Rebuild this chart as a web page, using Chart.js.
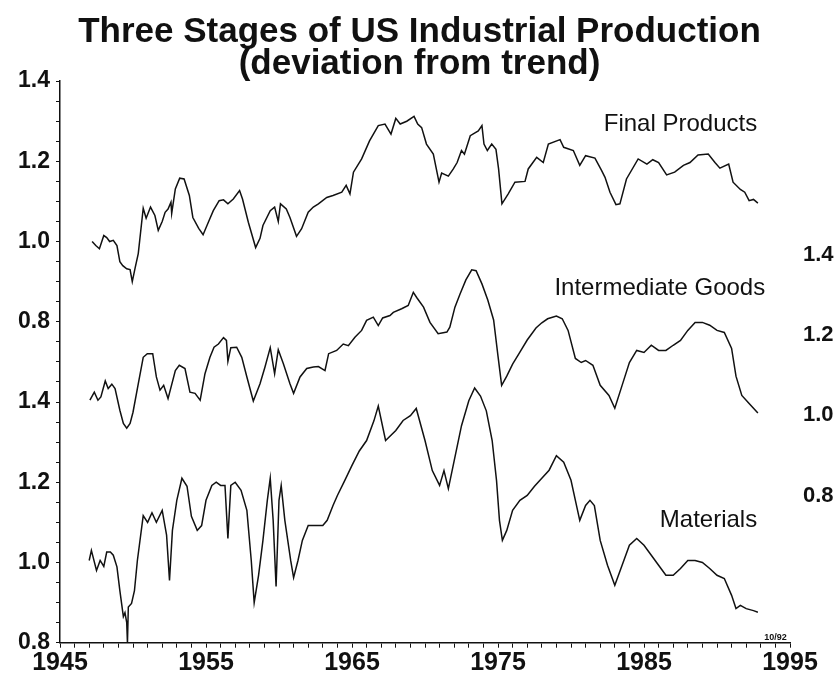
<!DOCTYPE html>
<html>
<head>
<meta charset="utf-8">
<script src="https://cdn.jsdelivr.net/npm/chart.js@4"></script>
<style>
  html, body { margin: 0; padding: 0; background: #fff; }
  #wrap { width: 839px; height: 681px; }
</style>
</head>
<body>
<div id="wrap"><canvas id="chart" width="839" height="681"></canvas></div>
<script>
// values (deviation from trend)
const finalYears = [1947.2, 1947.45, 1947.7, 1948.0, 1948.2, 1948.4, 1948.65, 1948.9, 1949.1, 1949.3, 1949.57, 1949.8, 1949.95, 1950.15, 1950.36, 1950.7, 1950.9, 1951.2, 1951.5, 1951.73, 1952.0, 1952.2, 1952.4, 1952.6, 1952.65, 1952.9, 1953.2, 1953.5, 1953.86, 1954.1, 1954.5, 1954.8, 1955.16, 1955.5, 1955.9, 1956.2, 1956.5, 1956.87, 1957.3, 1957.5, 1957.9, 1958.4, 1958.7, 1958.9, 1959.4, 1959.7, 1959.95, 1960.1, 1960.5, 1960.75, 1961.2, 1961.55, 1962.0, 1962.35, 1962.7, 1963.27, 1963.7, 1964.3, 1964.6, 1964.86, 1965.1, 1965.66, 1966.2, 1966.8, 1967.26, 1967.67, 1968.0, 1968.3, 1968.75, 1969.25, 1969.5, 1969.77, 1970.1, 1970.57, 1970.96, 1971.14, 1971.6, 1971.94, 1972.2, 1972.5, 1972.7, 1973.1, 1973.65, 1973.9, 1974.04, 1974.27, 1974.57, 1974.86, 1975.04, 1975.27, 1975.7, 1976.16, 1976.85, 1977.07, 1977.65, 1978.1, 1978.45, 1979.25, 1979.5, 1980.16, 1980.6, 1981.0, 1981.64, 1982.1, 1982.33, 1982.67, 1983.08, 1983.35, 1983.8, 1984.6, 1985.2, 1985.6, 1986.0, 1986.55, 1987.1, 1987.7, 1988.15, 1988.7, 1989.4, 1989.86, 1990.2, 1990.8, 1991.1, 1991.6, 1991.9, 1992.2, 1992.5, 1992.8];
const finalValues = [1.000, 0.990, 0.982, 1.015, 1.010, 1.000, 1.003, 0.990, 0.950, 0.940, 0.932, 0.930, 0.900, 0.935, 0.970, 1.083, 1.058, 1.086, 1.065, 1.028, 1.050, 1.073, 1.081, 1.098, 1.070, 1.131, 1.158, 1.156, 1.115, 1.060, 1.033, 1.017, 1.048, 1.077, 1.102, 1.104, 1.094, 1.106, 1.127, 1.106, 1.048, 0.985, 1.008, 1.040, 1.077, 1.086, 1.050, 1.094, 1.081, 1.060, 1.013, 1.032, 1.073, 1.086, 1.094, 1.110, 1.115, 1.123, 1.140, 1.119, 1.173, 1.206, 1.251, 1.289, 1.293, 1.268, 1.307, 1.293, 1.300, 1.312, 1.293, 1.284, 1.243, 1.218, 1.148, 1.171, 1.163, 1.181, 1.197, 1.227, 1.218, 1.264, 1.276, 1.289, 1.243, 1.227, 1.243, 1.230, 1.181, 1.094, 1.119, 1.148, 1.150, 1.181, 1.210, 1.197, 1.243, 1.254, 1.235, 1.227, 1.190, 1.214, 1.208, 1.177, 1.160, 1.123, 1.092, 1.094, 1.156, 1.206, 1.193, 1.204, 1.197, 1.166, 1.173, 1.190, 1.197, 1.216, 1.218, 1.197, 1.183, 1.193, 1.148, 1.130, 1.123, 1.102, 1.105, 1.096];

const interYears = [1947.05, 1947.35, 1947.6, 1947.8, 1948.1, 1948.3, 1948.55, 1948.77, 1949.1, 1949.34, 1949.57, 1949.8, 1950.0, 1950.36, 1950.7, 1950.98, 1951.35, 1951.6, 1951.85, 1952.1, 1952.4, 1952.9, 1953.17, 1953.56, 1953.9, 1954.25, 1954.6, 1954.93, 1955.27, 1955.55, 1955.85, 1956.2, 1956.4, 1956.5, 1956.7, 1957.1, 1957.45, 1957.8, 1958.24, 1958.7, 1959.04, 1959.4, 1959.7, 1959.95, 1960.3, 1960.75, 1961.0, 1961.44, 1961.9, 1962.35, 1962.7, 1963.15, 1963.4, 1963.95, 1964.4, 1964.75, 1965.2, 1965.66, 1966.0, 1966.46, 1966.8, 1967.1, 1967.6, 1967.83, 1968.4, 1968.85, 1969.2, 1969.43, 1969.9, 1970.34, 1970.9, 1971.5, 1971.7, 1972.05, 1972.4, 1972.8, 1973.2, 1973.5, 1973.9, 1974.3, 1974.7, 1975.0, 1975.25, 1975.6, 1976.0, 1976.5, 1977.0, 1977.6, 1978.0, 1978.4, 1979.0, 1979.4, 1979.8, 1980.3, 1980.7, 1981.0, 1981.5, 1982.0, 1982.6, 1983.0, 1983.5, 1984.0, 1984.5, 1985.0, 1985.5, 1986.0, 1986.5, 1987.0, 1987.5, 1988.0, 1988.5, 1989.0, 1989.5, 1990.0, 1990.5, 1991.0, 1991.3, 1991.7, 1992.2, 1992.8];
const interValues = [1.020, 1.040, 1.020, 1.028, 1.068, 1.049, 1.060, 1.049, 0.995, 0.962, 0.950, 0.962, 0.990, 1.061, 1.127, 1.136, 1.136, 1.078, 1.045, 1.057, 1.024, 1.094, 1.107, 1.099, 1.040, 1.037, 1.020, 1.086, 1.127, 1.152, 1.160, 1.176, 1.169, 1.117, 1.151, 1.152, 1.127, 1.078, 1.018, 1.061, 1.103, 1.151, 1.086, 1.146, 1.111, 1.061, 1.037, 1.078, 1.099, 1.103, 1.104, 1.094, 1.136, 1.144, 1.160, 1.156, 1.177, 1.194, 1.219, 1.227, 1.206, 1.225, 1.231, 1.239, 1.248, 1.256, 1.289, 1.276, 1.252, 1.214, 1.186, 1.190, 1.202, 1.252, 1.285, 1.320, 1.345, 1.343, 1.310, 1.270, 1.220, 1.130, 1.057, 1.080, 1.110, 1.140, 1.170, 1.200, 1.213, 1.223, 1.230, 1.223, 1.194, 1.124, 1.114, 1.119, 1.107, 1.057, 1.032, 1.000, 1.057, 1.114, 1.144, 1.139, 1.157, 1.144, 1.144, 1.157, 1.169, 1.194, 1.214, 1.214, 1.207, 1.194, 1.189, 1.149, 1.080, 1.032, 1.012, 0.988];

const matYears = [1947.0, 1947.15, 1947.5, 1947.75, 1948.0, 1948.2, 1948.45, 1948.65, 1948.9, 1949.1, 1949.34, 1949.45, 1949.57, 1949.62, 1949.68, 1949.9, 1950.1, 1950.3, 1950.7, 1951.0, 1951.3, 1951.6, 1952.0, 1952.3, 1952.5, 1952.7, 1953.0, 1953.35, 1953.7, 1954.0, 1954.4, 1954.7, 1955.0, 1955.4, 1955.7, 1956.0, 1956.3, 1956.5, 1956.7, 1957.0, 1957.4, 1957.8, 1958.1, 1958.3, 1958.6, 1958.9, 1959.2, 1959.4, 1959.6, 1959.8, 1960.0, 1960.15, 1960.4, 1960.8, 1961.0, 1961.3, 1961.6, 1962.0, 1962.5, 1963.0, 1963.3, 1963.7, 1964.0, 1964.5, 1965.0, 1965.5, 1966.0, 1966.5, 1966.8, 1967.3, 1968.0, 1968.5, 1969.0, 1969.4, 1970.0, 1970.5, 1971.0, 1971.3, 1971.6, 1972.0, 1972.5, 1973.0, 1973.4, 1973.8, 1974.2, 1974.6, 1974.9, 1975.1, 1975.3, 1975.6, 1976.0, 1976.5, 1977.0, 1977.5, 1978.0, 1978.5, 1979.0, 1979.5, 1980.0, 1980.3, 1980.6, 1981.0, 1981.3, 1981.6, 1982.0, 1982.5, 1983.0, 1983.5, 1984.0, 1984.5, 1985.0, 1985.5, 1986.0, 1986.5, 1987.0, 1987.5, 1988.0, 1988.5, 1989.0, 1989.5, 1990.0, 1990.5, 1991.0, 1991.3, 1991.6, 1992.0, 1992.5, 1992.8];
const matValues = [1.005, 1.030, 0.980, 1.005, 0.990, 1.026, 1.026, 1.018, 0.989, 0.930, 0.865, 0.875, 0.850, 0.800, 0.889, 0.898, 0.930, 1.005, 1.117, 1.100, 1.124, 1.100, 1.130, 1.068, 0.955, 1.080, 1.155, 1.210, 1.190, 1.115, 1.080, 1.092, 1.155, 1.192, 1.200, 1.192, 1.192, 1.060, 1.192, 1.200, 1.180, 1.130, 1.005, 0.900, 0.968, 1.055, 1.155, 1.210, 1.105, 0.940, 1.155, 1.192, 1.105, 1.005, 0.962, 1.005, 1.055, 1.092, 1.092, 1.092, 1.105, 1.142, 1.167, 1.204, 1.242, 1.278, 1.304, 1.353, 1.390, 1.304, 1.329, 1.354, 1.366, 1.384, 1.304, 1.229, 1.192, 1.229, 1.184, 1.254, 1.341, 1.403, 1.435, 1.415, 1.378, 1.304, 1.204, 1.105, 1.055, 1.080, 1.130, 1.155, 1.167, 1.190, 1.210, 1.230, 1.266, 1.250, 1.205, 1.155, 1.105, 1.142, 1.155, 1.142, 1.055, 0.993, 0.943, 0.993, 1.043, 1.060, 1.043, 1.018, 0.993, 0.968, 0.968, 0.985, 1.005, 1.005, 1.000, 0.985, 0.968, 0.960, 0.918, 0.885, 0.893, 0.885, 0.880, 0.876];

const yearTicks = [1945, 1955, 1965, 1975, 1985, 1995];
const valueTicks = [0.8, 1.0, 1.2, 1.4];
const seriesNames = ["Final Products", "Intermediate Goods", "Materials"];

const FONT = "'Liberation Sans', Arial, Helvetica, sans-serif";
const INK = "#111";

// the left axis stacks two panels: materials below, final products above (offset 0.8)
const PANEL_OFFSET = 0.8;

function toPoints(xs, ys) {
  return xs.map((x, i) => ({ x, y: ys[i] }));
}

function lineSet(label, xs, ys, axis) {
  return {
    label,
    data: toPoints(xs, ys),
    yAxisID: axis,
    borderColor: INK,
    borderWidth: 1.5,
    pointRadius: 0,
    tension: 0,
    fill: false,
  };
}

// left tick label: only every 0.2, with the upper panel shifted back by the offset
function leftLabel(v) {
  const hundredths = Math.round(v * 100);
  if (hundredths % 20 !== 0) return "";
  const panel = hundredths > 140 ? hundredths - PANEL_OFFSET * 100 : hundredths;
  return (panel / 100).toFixed(1);
}

const seriesLabels = {
  id: "seriesLabels",
  afterDatasetsDraw(chart) {
    const { ctx, scales } = chart;
    const x = scales.x;
    ctx.save();
    ctx.fillStyle = INK;
    ctx.textAlign = "right";
    ctx.textBaseline = "middle";
    ctx.font = `24px ${FONT}`;
    ctx.fillText(seriesNames[0], x.getPixelForValue(1992.75), scales.yF.getPixelForValue(1.292));
    ctx.fillText(seriesNames[1], x.getPixelForValue(1993.3), scales.yI.getPixelForValue(1.30));
    ctx.fillText(seriesNames[2], x.getPixelForValue(1992.75), scales.yM.getPixelForValue(1.105));
    ctx.font = `bold 9px ${FONT}`;
    ctx.textAlign = "center";
    ctx.textBaseline = "bottom";
    ctx.fillText("10/92", x.getPixelForValue(1994.0), chart.chartArea.bottom - 1);
    ctx.restore();
  },
};

new Chart(document.getElementById("chart"), {
  type: "line",
  data: {
    datasets: [
      lineSet(seriesNames[0], finalYears, finalValues, "yF"),
      lineSet(seriesNames[1], interYears, interValues, "yI"),
      lineSet(seriesNames[2], matYears, matValues, "yM"),
    ],
  },
  options: {
    responsive: false,
    animation: false,
    layout: { padding: 0 },
    plugins: {
      legend: { display: false },
      tooltip: { enabled: false },
      title: {
        display: true,
        text: ["Three Stages of US Industrial Production", "(deviation from trend)"],
        color: INK,
        font: { family: FONT, size: 35, weight: "bold", lineHeight: 0.93 },
        padding: { top: 16, bottom: 0 },
      },
    },
    scales: {
      x: {
        type: "linear",
        position: "bottom",
        min: 1945,
        max: 1995,
        afterBuildTicks(scale) {
          const t = [];
          for (let y = 1945; y <= 1995; y++) t.push({ value: y });
          scale.ticks = t;
        },
        afterFit(scale) { scale.height = 38.3; },
        ticks: {
          autoSkip: false,
          maxRotation: 0,
          padding: 0,
          color: INK,
          font: { family: FONT, size: 25, weight: "bold" },
          callback: (v) => (yearTicks.includes(v) ? String(v) : ""),
        },
        grid: { drawOnChartArea: false, tickLength: 5, color: INK, lineWidth: 1 },
        border: { color: INK, width: 1.5 },
      },
      yM: {
        type: "linear",
        position: "left",
        min: 0.8,
        max: 0.8 + 2 * PANEL_OFFSET - 0.2,
        afterBuildTicks(scale) {
          const t = [];
          for (let i = 0; i <= 28; i++) t.push({ value: 0.8 + i * 0.05 });
          scale.ticks = t;
        },
        afterFit(scale) { scale.width = 60; },
        ticks: {
          autoSkip: false,
          padding: 6,
          color: INK,
          font: { family: FONT, size: 23, weight: "bold" },
          callback: leftLabel,
        },
        grid: { drawOnChartArea: false, tickLength: 4, color: INK, lineWidth: 1 },
        border: { color: INK, width: 1.5 },
      },
      yF: {
        type: "linear",
        display: false,
        min: 0.8 - PANEL_OFFSET,
        max: 1.4,
      },
      yI: {
        type: "linear",
        position: "right",
        min: 0.4155,
        max: 1.8155,
        afterBuildTicks(scale) {
          scale.ticks = valueTicks.map((v) => ({ value: v }));
        },
        afterFit(scale) { scale.width = 49; },
        ticks: {
          padding: 5,
          labelOffset: 7,
          color: INK,
          font: { family: FONT, size: 22, weight: "bold" },
          callback: (v) => v.toFixed(1),
        },
        grid: { display: false },
        border: { display: false },
      },
    },
  },
  plugins: [seriesLabels],
});
</script>
</body>
</html>
